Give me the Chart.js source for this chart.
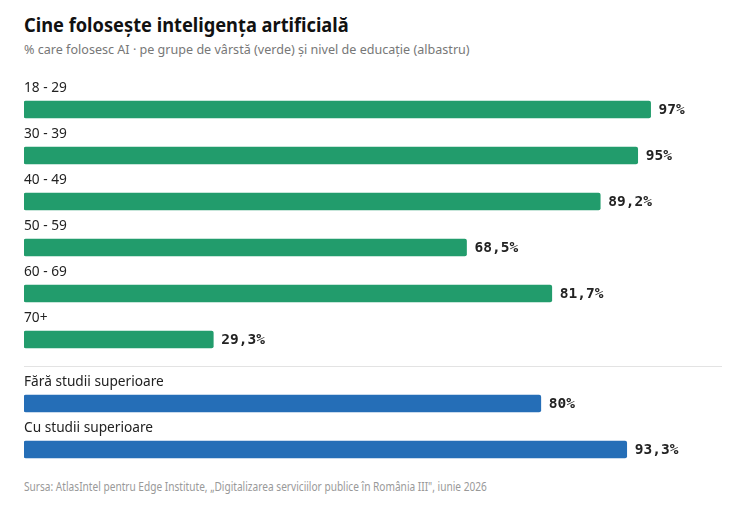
<!DOCTYPE html>
<html>
<head>
<meta charset="utf-8">
<script src="https://cdn.jsdelivr.net/npm/chart.js@4/dist/chart.umd.min.js"></script>
<style>
    body { margin: 0; background: #fff; width: 751px; height: 509px; position: relative; overflow: hidden; }
    .title { position: absolute; left: 24px; top: 12px; font: bold 19px "Noto Sans", sans-serif; color: #111; white-space: nowrap; transform: scaleX(0.96); transform-origin: left center; }
    .subtitle { position: absolute; left: 24px; top: 40px; font: 13px "Noto Sans", sans-serif; color: #777; white-space: nowrap; transform: scaleX(0.967); transform-origin: left center; }
    .sep { position: absolute; left: 24px; top: 366px; width: 698px; height: 0; border-top: 1px solid #e3e3e3; }
    .source { position: absolute; left: 24px; top: 478px; font: 12.5px "Noto Sans", sans-serif; color: #999; white-space: nowrap; transform: scaleX(0.81); transform-origin: left center; }
    #ageWrap { position: absolute; left: 0; top: 60px; width: 751px; height: 306px; }
    #eduWrap { position: absolute; left: 0; top: 370px; width: 751px; height: 106px; }
</style>
</head>
<body>
<div class="title">Cine folosește inteligența artificială</div>
<div class="subtitle">% care folosesc AI · pe grupe de vârstă (verde) și nivel de educație (albastru)</div>
<div id="ageWrap"><canvas id="ageChart"></canvas></div>
<div class="sep"></div>
<div id="eduWrap"><canvas id="eduChart"></canvas></div>
<div class="source">Sursa: AtlasIntel pentru Edge Institute, „Digitalizarea serviciilor publice în România III", iunie 2026</div>

<script>
    var ageLabels = ['18 - 29', '30 - 39', '40 - 49', '50 - 59', '60 - 69', '70+'];
    var ageValues = [97, 95, 89.2, 68.5, 81.7, 29.3];
    var eduLabels = ['Fără studii superioare', 'Cu studii superioare'];
    var eduValues = [80, 93.3];

    // labels above each bar and values after its end
    var rowLabels = {
        id: 'rowLabels',
        afterDatasetsDraw: function (chart) {
            var ctx = chart.ctx;
            var meta = chart.getDatasetMeta(0);
            var data = chart.data.datasets[0].data;
            ctx.save();
            meta.data.forEach(function (bar, i) {
                ctx.textBaseline = 'middle';
                ctx.textAlign = 'left';
                ctx.fillStyle = '#222';
                ctx.font = '13.7px "Noto Sans", sans-serif';
                ctx.fillText(chart.data.labels[i], 24, bar.y - 21);
                ctx.font = 'bold 14.5px "DejaVu Sans Mono", monospace';
                ctx.fillText(String(data[i]).replace('.', ',') + '%', bar.x + 8, bar.y + 1);
            });
            ctx.restore();
        }
    };

    function makeChart(id, labels, values, color, padTop) {
        var ctx = document.getElementById(id).getContext('2d');
        return new Chart(ctx, {
            type: 'bar',
            data: {
                labels: labels,
                datasets: [{
                    data: values,
                    backgroundColor: color,
                    borderRadius: 2,
                    borderSkipped: false,
                    barThickness: 17
                }]
            },
            options: {
                indexAxis: 'y',
                responsive: true,
                maintainAspectRatio: false,
                animation: false,
                layout: { padding: { left: 24, right: 81, top: padTop, bottom: 3.5 } },
                scales: {
                    x: { display: false, min: 0, max: 100 },
                    y: { display: false }
                },
                plugins: {
                    legend: { display: false },
                    tooltip: { enabled: false }
                }
            },
            plugins: [rowLabels]
        });
    }

    makeChart('ageChart', ageLabels, ageValues, '#229c6c', 26.5);
    makeChart('eduChart', eduLabels, eduValues, '#256eb7', 10.5);
</script>
</body>
</html>
